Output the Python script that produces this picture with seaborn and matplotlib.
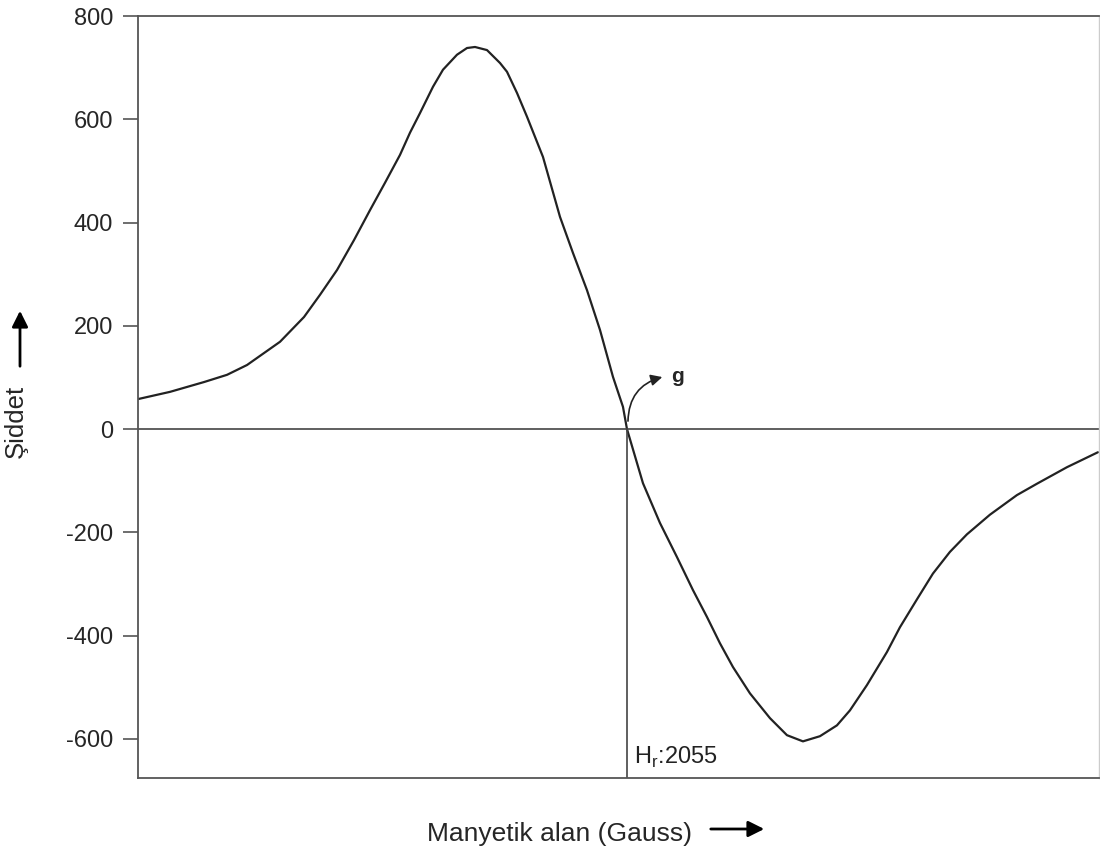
import numpy as np
import pandas as pd
import matplotlib
matplotlib.use("Agg")
import matplotlib.pyplot as plt
import seaborn as sns

# EPR derivative spectrum
field = [1566, 1598, 1632, 1655, 1675, 1708, 1732, 1748, 1765, 1782, 1798,
         1813, 1828, 1838, 1848, 1861, 1871, 1885, 1895, 1903, 1915, 1928,
         1935, 1945, 1955, 1971, 1988, 2001, 2015, 2028, 2041, 2051, 2055,
         2071, 2088, 2105, 2121, 2135, 2148, 2161, 2178, 2198, 2215, 2231,
         2248, 2265, 2278, 2295, 2315, 2328, 2345, 2361, 2378, 2395, 2418,
         2445, 2465, 2495, 2526]
intensity = [58, 72, 91, 105, 124, 169, 217, 260, 308, 366, 424,
             477, 531, 574, 612, 663, 696, 725, 738, 740, 734, 709,
             692, 651, 605, 527, 411, 341, 269, 192, 101, 43, 0,
             -105, -182, -248, -312, -364, -415, -461, -512, -560, -593, -605,
             -595, -574, -545, -496, -432, -384, -330, -280, -238, -204, -166,
             -128, -106, -74, -45]
yticks = [800, 600, 400, 200, 0, -200, -400, -600]
h_res = 2055

df = pd.DataFrame({"field": field, "intensity": intensity})

sns.set_style("white")
plt.rcParams['font.family'] = ['Liberation Sans', 'DejaVu Sans']

fig = plt.figure(figsize=(11, 8.56), dpi=100)
ax = fig.add_axes([0.1255, 0.0911, 0.8735, 0.8902])

sns.lineplot(data=df, x="field", y="intensity", ax=ax, color="#222222", linewidth=1.6)

ax.set_xlim(1566, 2527)
ax.set_ylim(-676, 800)
ax.axhline(0, color="#444444", linewidth=1.2)
ax.plot([h_res, h_res], [-676, 0], color="#444444", linewidth=1.2)

ax.set_yticks(yticks)
ax.set_yticklabels([str(v) for v in yticks], fontsize=17)
ax.set_xticks([])
ax.tick_params(axis="y", direction="out", length=11, width=1.2, color="#555555", pad=7, left=True)
ax.set_xlabel("")
ax.set_ylabel("")
for side in ["left", "top", "bottom"]:
    ax.spines[side].set_color("#555555")
    ax.spines[side].set_linewidth(1.3)
ax.spines["right"].set_color("#cccccc")
ax.spines["right"].set_linewidth(1.0)

# g marker arrow
ax.annotate("", xy=(2093, 102), xytext=(2056, 10),
            arrowprops=dict(arrowstyle="-|>", color="#222222", lw=1.2,
                            connectionstyle="arc3,rad=-0.4", mutation_scale=17))
ax.text(2099, 102, "g", fontsize=15, fontweight="bold", va="center", ha="left")

ax.text(h_res + 7, -637, "H$_\\mathregular{r}$:2055", fontsize=17, va="center", ha="left", color="#222222")

# axis titles with arrows
fig.text(0.509, 1 - 834 / 856, "Manyetik alan (Gauss)", fontsize=19, ha="center", va="center")
fig.patches.append(matplotlib.patches.FancyArrowPatch(
    (708 / 1100, 1 - 829 / 856), (767 / 1100, 1 - 829 / 856), transform=fig.transFigure,
    arrowstyle="-|>", mutation_scale=24, color="black", lw=2))

fig.text(16 / 1100, 1 - 421 / 856, "Şiddet", fontsize=18.5, rotation=90, ha="center", va="center")
fig.patches.append(matplotlib.patches.FancyArrowPatch(
    (20 / 1100, 1 - 369 / 856), (20 / 1100, 1 - 308 / 856), transform=fig.transFigure,
    arrowstyle="-|>", mutation_scale=24, color="black", lw=2))

fig.savefig("out.png", dpi=100)
